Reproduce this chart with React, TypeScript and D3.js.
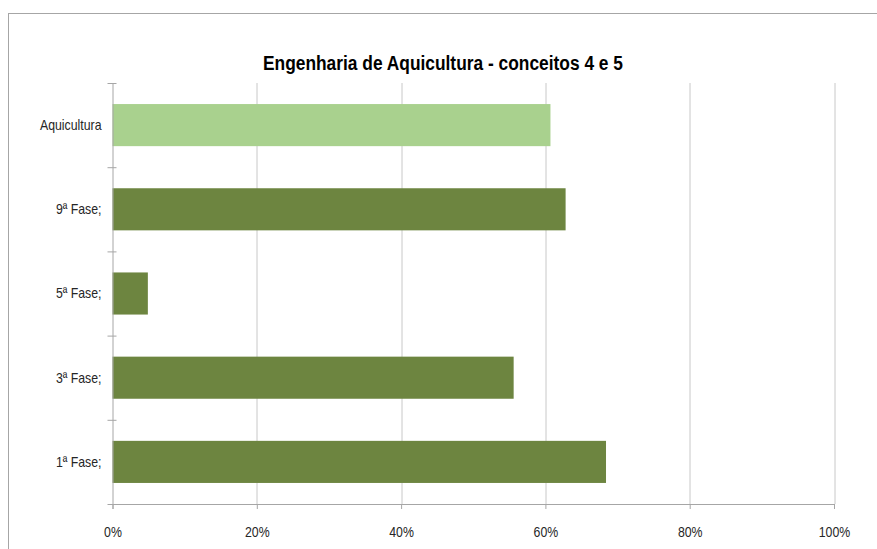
import React, { useEffect, useRef } from 'react';
import * as d3 from 'd3';

// categories from top to bottom
const categories = ['Aquicultura', '9ª Fase;', '5ª Fase;', '3ª Fase;', '1ª Fase;'];
const values = [0.607, 0.628, 0.049, 0.556, 0.684];
const barColors = ['#a9d18e', '#6d8540', '#6d8540', '#6d8540', '#6d8540'];
const xTicks = [0, 0.2, 0.4, 0.6, 0.8, 1];
const title = 'Engenharia de Aquicultura - conceitos 4 e 5';

const W = 877;
const H = 549;
const FONT = '"Liberation Sans Narrow", "Arial Narrow", "Liberation Sans", sans-serif';
const SQUEEZE = 0.88; // no narrow font installed, so condense by hand

const App: React.FC = () => {
  const ref = useRef<SVGSVGElement | null>(null);

  useEffect(() => {
    const svg = d3.select(ref.current);
    svg.selectAll('*').remove();

    const margin = { top: 83, left: 112.5, right: W - 834, bottom: H - 504 };
    const width = W - margin.left - margin.right;
    const height = H - margin.top - margin.bottom;

    // outer frame
    svg.append('rect')
      .attr('x', 8.5).attr('y', 13.5)
      .attr('width', W + 10).attr('height', H + 10)
      .attr('fill', 'none').attr('stroke', '#a6a6a6');

    svg.append('text')
      .attr('x', 443).attr('y', 70)
      .attr('text-anchor', 'middle')
      .attr('textLength', 360)
      .attr('lengthAdjust', 'spacingAndGlyphs')
      .style('font-family', FONT)
      .style('font-size', '20px')
      .style('font-weight', 'bold')
      .style('fill', '#000')
      .text(title);

    const x = d3.scaleLinear().domain([0, 1]).range([0, width]);
    const y = d3.scaleBand().domain(categories).range([0, height]).paddingInner(0.5).paddingOuter(0.25);
    const yOuter = d3.scaleBand().domain(categories).range([0, height]);

    const g = svg.append('g').attr('transform', `translate(${margin.left},${margin.top})`);

    // gridlines
    g.selectAll('line.grid')
      .data(xTicks.slice(1))
      .enter()
      .append('line')
      .attr('x1', (d) => Math.round(x(d)) + 0.5)
      .attr('x2', (d) => Math.round(x(d)) + 0.5)
      .attr('y1', 0)
      .attr('y2', height)
      .attr('stroke', '#c8c8c8');

    // bars
    g.selectAll('rect.bar')
      .data(values)
      .enter()
      .append('rect')
      .attr('x', 0)
      .attr('y', (d, i) => y(categories[i]))
      .attr('width', (d) => x(d))
      .attr('height', y.bandwidth())
      .attr('fill', (d, i) => barColors[i]);

    // x axis
    const xAxis = g.append('g')
      .attr('transform', `translate(0,${height})`)
      .call(d3.axisBottom(x).tickValues(xTicks).tickFormat(d3.format('.0%')).tickSize(5).tickPadding(18));
    xAxis.select('.domain').attr('stroke', '#a6a6a6');
    xAxis.selectAll('.tick line').attr('stroke', '#a6a6a6');
    xAxis.selectAll('.tick text')
      .attr('transform', `scale(${SQUEEZE},1)`)
      .style('font-family', FONT)
      .style('font-size', '14px')
      .style('fill', '#262626');

    // y axis
    const yAxisLine = g.append('g');
    yAxisLine.append('line')
      .attr('x1', 0.5).attr('x2', 0.5).attr('y1', 0).attr('y2', height)
      .attr('stroke', '#a6a6a6');
    const bounds = categories.map((c) => yOuter(c)).concat([height]);
    yAxisLine.selectAll('line.tk')
      .data(bounds)
      .enter()
      .append('line')
      .attr('x1', -5).attr('x2', 4)
      .attr('y1', (d) => d + 0.5).attr('y2', (d) => d + 0.5)
      .attr('stroke', '#a6a6a6');

    g.selectAll('text.cat')
      .data(categories)
      .enter()
      .append('text')
      .attr('transform', (d) => `translate(-11,${y(d) + y.bandwidth() / 2}) scale(${SQUEEZE},1)`)
      .attr('dy', '0.35em')
      .attr('text-anchor', 'end')
      .style('font-family', FONT)
      .style('font-size', '14px')
      .style('fill', '#262626')
      .text((d) => d);
  }, []);

  return <svg ref={ref} width={W} height={H} style={{ position: 'absolute', left: 0, top: 0, background: '#fff' }}></svg>;
};

export default App;
